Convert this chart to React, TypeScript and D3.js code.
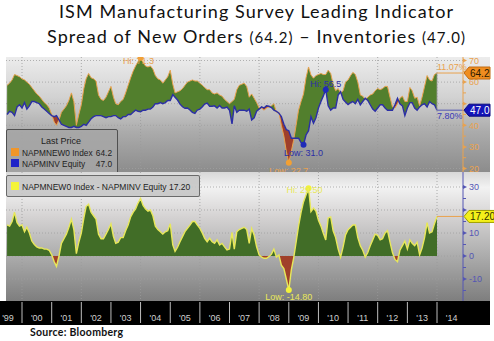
import React from "react";
import * as d3 from "d3";

// Monthly values, first point = June 1999, last point = December 2013
const firstYear = 1999;
const firstMonthIndex = 5; // June (0-based)

const newOrders = [
  // 1999 Jun-Dec
  58.5, 59.5, 61, 63.5, 63, 62.5, 61.5,
  // 2000
  61, 60, 59, 57.5, 56, 54.5, 53.5, 52, 50.5, 49.5, 48, 45,
  // 2001
  41.5, 40, 42.5, 46, 47.5, 49, 51.5, 55, 51, 40, 45, 49.5,
  // 2002
  57, 61.5, 64, 62, 61.5, 60.5, 54, 52, 51.5, 53, 55.5, 58,
  // 2003
  53, 50, 49.5, 51, 52, 55, 58.5, 62, 65, 67.5, 69.5, 71.3,
  // 2004
  69, 67.5, 67, 67.5, 66, 63, 61.5, 61, 59.5, 61, 62.5, 65.5,
  // 2005
  59, 55, 55.5, 56, 57, 58.5, 60, 60.5, 61, 60.5, 60.5, 59.5,
  // 2006
  58.5, 57.5, 56.5, 56.5, 55, 54.5, 55, 54, 53.5, 52, 51, 50,
  // 2007
  51, 52, 56.5, 58.5, 59, 59.5, 58, 53, 54.5, 52.5, 50.5, 48,
  // 2008
  48, 47, 48, 48.5, 49, 50, 46, 46, 40, 35, 28, 22.7,
  // 2009
  28, 33, 40, 47, 51, 54.5, 62, 67, 63.3, 61.8, 63, 63.5,
  // 2010
  64, 63.5, 63.5, 65.5, 64, 59, 56, 57, 55, 56, 60, 61,
  // 2011
  63, 64.5, 63.5, 60, 54, 53.5, 52, 53, 54, 54.5, 56, 57,
  // 2012
  56.5, 57, 58, 58, 53, 48.5, 48, 50, 52.5, 53.5, 51, 51,
  // 2013
  57.5, 56, 52.5, 53, 49, 53, 58, 63, 61, 60.5, 63.5, 64.2,
];

const inventories = [
  // 1999 Jun-Dec
  45, 46.5, 46, 44.5, 48.5, 49.5, 48,
  // 2000
  50.5, 47.5, 49, 51, 51, 50.5, 50, 48.5, 47.5, 46.5, 45.5, 44.5,
  // 2001
  44, 44.5, 42.5, 40.5, 40, 39.5, 39, 39, 39.5, 39, 39, 39.5,
  // 2002
  40.5, 40, 41.5, 43, 44, 44.5, 44.5, 44.5, 44, 43.5, 44, 44,
  // 2003
  44.5, 44.5, 43.5, 43, 44, 44, 45, 45, 46, 47, 46.5, 46.3,
  // 2004
  47, 47, 47.5, 47.5, 48.5, 50, 50, 50.5, 50, 50.5, 51.5, 51.5,
  // 2005
  54.2, 53, 51.7, 49.8, 48.6, 47.9, 48, 47.1, 46, 45.5, 47.1, 47.5,
  // 2006
  48.6, 49.8, 50.3, 48.8, 48.8, 49, 48, 49.2, 48, 48, 48.4, 47,
  // 2007
  40.7, 49, 46, 47, 47, 47, 46.5, 47.5, 42.5, 43.5, 46.5, 47.5,
  // 2008
  48.5, 48, 49, 48.8, 48.2, 47, 46.5, 45.6, 44, 40.5, 38, 37.5,
  // 2009
  34, 34, 34, 34, 32, 31, 35.5, 37.5, 44, 41, 43.5, 48,
  // 2010
  51, 53.5, 56.5, 49, 47, 48, 48, 54, 55.5, 52, 50.8, 49.6,
  // 2011
  50.5, 51, 50, 52, 49.5, 51, 52.5, 51.5, 49.5, 47.5, 46.5, 48,
  // 2012
  49.5, 49.5, 48, 47, 47, 47, 49.5, 52.5, 50, 49, 44.5, 48,
  // 2013
  50.5, 50.5, 48, 47, 48.5, 49.5, 50, 48.5, 51, 50, 49.5, 47.0,
];

const yearLabels = ["'99", "'00", "'01", "'02", "'03", "'04", "'05", "'06", "'07", "'08", "'09", "'10", "'11", "'12", "'13", "'14"];
const gridYears = [2000, 2002, 2004, 2006, 2008, 2010, 2012, 2014];
const topTicks = [70, 60, 50, 40, 30, 20];
const topMinorTicks = [65, 55, 45, 35, 25];
const bottomTicks = [30, 20, 10, 0, -10];
const bottomMinorTicks = [25, 15, 5, -5, -15];
const pctLabels = ["11.07%", "7.80%"];
const seriesNames = ["NAPMNEW0 Index", "NAPMINV Equity"];
const spreadName = "NAPMNEW0 Index - NAPMINV Equity";

const BB = "Liberation Sans";

export default function App() {
  const W = 494, H = 341;
  const left = 6, right = 490, axisX = 463;
  const topY0 = 57, topY1 = 172, botY0 = 172, botY1 = 301, bandY1 = 325;

  const data = newOrders.map((no, i) => ({
    date: new Date(firstYear, firstMonthIndex + i + 1, 1),
    no,
    inv: inventories[i],
    spread: Math.round((no - inventories[i]) * 100) / 100,
  }));
  const last = data[data.length - 1];

  const x = d3.scaleTime().domain([new Date(2000, 0, 1), new Date(2014, 0, 1)]).range([22, 437]);
  const yT = d3.scaleLinear().domain([20, 70]).range([168.5, 60.5]);
  const yB = d3.scaleLinear().domain([-10, 30]).range([279, 187]);

  type D = typeof data[number];
  const between = d3.area<D>().x(d => x(d.date)).y0(d => yT(d.inv)).y1(d => yT(d.no))(data) || "";
  const aboveInv = d3.area<D>().x(d => x(d.date)).y0(topY0).y1(d => yT(d.inv))(data) || "";
  const belowInv = d3.area<D>().x(d => x(d.date)).y0(topY1).y1(d => yT(d.inv))(data) || "";
  const noLine = d3.line<D>().x(d => x(d.date)).y(d => yT(d.no))(data) || "";
  const invLine = d3.line<D>().x(d => x(d.date)).y(d => yT(d.inv))(data) || "";
  const spreadArea = d3.area<D>().x(d => x(d.date)).y0(yB(0)).y1(d => yB(d.spread))(data) || "";
  const spreadLine = d3.line<D>().x(d => x(d.date)).y(d => yB(d.spread))(data) || "";

  const iMaxNo = d3.maxIndex(data, d => d.no);
  const iMinNo = d3.minIndex(data, d => d.no);
  const iMaxInv = d3.maxIndex(data, d => d.inv);
  const iMinInv = d3.minIndex(data, d => d.inv);
  const iMaxSp = d3.maxIndex(data, d => d.spread);
  const iMinSp = d3.minIndex(data, d => d.spread);

  const orange = "#e9a24e";
  const orangeDot = "#f3a033";
  const blue = "#2b2fa6";
  const axisBlue = "#5456b4";
  const yellow = "#e8e85a";
  const xEnd = x(last.date);

  // tick labels hidden behind the last-value tags (as in the Bloomberg chart)
  const topTagYs = [yT(last.no), yT(last.inv)];
  const botTagYs = [yB(last.spread)];
  const free = (ty: number, tags: number[]) => tags.every(g => Math.abs(g - ty) > 9);

  const tag = (cy: number, fill: string, stroke: string, text: string, tc: string, w: number) => (
    <g>
      <path d={`M${axisX + 1},${cy} L${axisX + 6},${cy - 6} L${axisX + w},${cy - 6} L${axisX + w},${cy + 6} L${axisX + 6},${cy + 6} Z`} fill={fill} stroke={stroke} strokeWidth={1} />
      <text x={axisX + 7} y={cy + 3.8} fontFamily={BB} fontSize={10} fill={tc}>{text}</text>
    </g>
  );

  return (
    <svg width={W} height={H} viewBox={`0 0 ${W} ${H}`} style={{ position: "absolute", left: 0, top: 0, background: "#fff" }}>
      <defs>
        <linearGradient id="gTop" x1="0" y1="0" x2="0" y2="1">
          <stop offset="0%" stopColor="#ececec" />
          <stop offset="35%" stopColor="#d2d2d2" />
          <stop offset="65%" stopColor="#ababab" />
          <stop offset="100%" stopColor="#8c8c8c" />
        </linearGradient>
        <linearGradient id="gBot" x1="0" y1="0" x2="0" y2="1">
          <stop offset="0%" stopColor="#d8d8d8" />
          <stop offset="12%" stopColor="#f2f2f2" />
          <stop offset="35%" stopColor="#d4d2d2" />
          <stop offset="62%" stopColor="#b0b0b0" />
          <stop offset="100%" stopColor="#7e7e7e" />
        </linearGradient>
        <clipPath id="cTop"><rect x={left} y={topY0} width={axisX - left} height={topY1 - topY0} /></clipPath>
        <clipPath id="cBot"><rect x={left} y={botY0} width={axisX - left} height={botY1 - botY0} /></clipPath>
        <clipPath id="cAbove"><path d={aboveInv} /></clipPath>
        <clipPath id="cBelow"><path d={belowInv} /></clipPath>
        <clipPath id="cPos"><rect x={left} y={botY0} width={axisX - left} height={yB(0) - botY0} /></clipPath>
        <clipPath id="cNeg"><rect x={left} y={yB(0)} width={axisX - left} height={botY1 - yB(0)} /></clipPath>
        <clipPath id="cTopPanel"><rect x={left} y={topY0} width={right - left} height={topY1 - topY0} /></clipPath>
      </defs>

      {/* Title */}
      <text x={256} y={18} textAnchor="middle" fontFamily="Lato" fontSize={18} fill="#111" textLength={394} lengthAdjust="spacing">
        ISM Manufacturing Survey Leading Indicator
      </text>
      <text x={256} y={43} textAnchor="middle" fontFamily="Lato" fill="#111" textLength={418} lengthAdjust="spacing">
        <tspan fontSize={18}>Spread of New Orders </tspan>
        <tspan fontSize={15}>({last.no.toFixed(1)})</tspan>
        <tspan fontSize={18}> – Inventories </tspan>
        <tspan fontSize={15}>({last.inv.toFixed(1)})</tspan>
      </text>

      {/* Panel backgrounds */}
      <rect x={left} y={topY0} width={right - left} height={topY1 - topY0} fill="url(#gTop)" />
      <rect x={left} y={botY0} width={right - left} height={botY1 - botY0} fill="url(#gBot)" />

      {/* ===== Top panel ===== */}
      <g clipPath="url(#cTop)">
        {gridYears.map(yr => (
          <line key={yr} x1={x(new Date(yr, 0, 1))} x2={x(new Date(yr, 0, 1))} y1={topY0} y2={topY1} stroke="#9a9a9a" strokeDasharray="1,2" strokeWidth={0.8} />
        ))}
        {topTicks.map(t => (
          <line key={t} x1={left} x2={axisX} y1={yT(t)} y2={yT(t)} stroke="#a0a0a0" strokeDasharray="1,2" strokeWidth={0.8} />
        ))}
        <path d={between} fill="#527f2d" clipPath="url(#cAbove)" />
        <path d={between} fill="#9e3f2b" clipPath="url(#cBelow)" />
        <path d={noLine} fill="none" stroke={orange} strokeWidth={1} />
        <path d={invLine} fill="none" stroke={blue} strokeWidth={1.4} />
        <line x1={xEnd} x2={axisX} y1={yT(last.no)} y2={yT(last.no)} stroke={orange} strokeWidth={1} />
        <line x1={xEnd} x2={axisX} y1={yT(last.inv)} y2={yT(last.inv)} stroke={axisBlue} strokeWidth={1} />
        <line x1={xEnd} x2={xEnd} y1={yT(last.no)} y2={yT(last.inv)} stroke="#9a9a9a" strokeWidth={0.8} />
      </g>
      <g clipPath="url(#cTopPanel)" fontFamily={BB} fontSize={9}>
        <circle cx={x(data[iMaxNo].date)} cy={yT(data[iMaxNo].no)} r={3} fill={orangeDot} />
        <text x={x(data[iMaxNo].date) - 2} y={yT(data[iMaxNo].no) + 6} textAnchor="middle" fill={orange}>Hi: {data[iMaxNo].no.toFixed(1)}</text>
        <circle cx={x(data[iMinNo].date)} cy={yT(data[iMinNo].no)} r={3} fill={orangeDot} />
        <text x={x(data[iMinNo].date)} y={yT(data[iMinNo].no) + 11} textAnchor="middle" fill={orange}>Low: {data[iMinNo].no.toFixed(1)}</text>
        <circle cx={x(data[iMaxInv].date)} cy={yT(data[iMaxInv].inv)} r={3} fill="#1f2bb8" />
        <text x={x(data[iMaxInv].date)} y={yT(data[iMaxInv].inv) - 3} textAnchor="middle" fill={blue}>Hi: {data[iMaxInv].inv.toFixed(1)}</text>
        <circle cx={x(data[iMinInv].date)} cy={yT(data[iMinInv].inv)} r={3} fill="#1f2bb8" />
        <text x={x(data[iMinInv].date)} y={yT(data[iMinInv].inv) + 11} textAnchor="middle" fill={blue}>Low: {data[iMinInv].inv.toFixed(1)}</text>
        <text x={xEnd} y={yT(last.no) - 3} fill={orange}>{pctLabels[0]}</text>
        <text x={xEnd} y={yT(last.inv) + 9} fill="#3a3ab8">{pctLabels[1]}</text>
      </g>

      {/* Top legend */}
      <g clipPath="url(#cTopPanel)" fontFamily={BB}>
        <rect x={left + 0.5} y={129.5} width={111} height={45} fill="#a6a6a6" fillOpacity={0.85} stroke="#505050" strokeWidth={1} rx={1.5} />
        <text x={61} y={144} textAnchor="middle" fontSize={9} fill="#1e1e1e">Last Price</text>
        <rect x={11} y={148} width={8} height={8} fill="#f0962a" />
        <text x={22} y={155.5} fontSize={8.3} fill="#1e1e1e">{seriesNames[0]}</text>
        <text x={112} y={155.5} textAnchor="end" fontSize={8.3} fill="#1e1e1e">{last.no.toFixed(1)}</text>
        <rect x={11} y={159} width={8} height={8} fill="#1f24c8" />
        <text x={22} y={166.5} fontSize={8.3} fill="#1e1e1e">{seriesNames[1]}</text>
        <text x={112} y={166.5} textAnchor="end" fontSize={8.3} fill="#1e1e1e">{last.inv.toFixed(1)}</text>
      </g>

      {/* Top axis */}
      <line x1={axisX} x2={axisX} y1={topY0} y2={topY1} stroke={orange} strokeWidth={1} />
      {topMinorTicks.map(t => (
        <line key={t} x1={axisX} x2={axisX + 3} y1={yT(t)} y2={yT(t)} stroke={orange} strokeWidth={1} />
      ))}
      {topTicks.map(t => (
        <g key={t}>
          <path d={`M${axisX},${yT(t) - 2} L${axisX + 4},${yT(t)} L${axisX},${yT(t) + 2} Z`} fill={orange} />
          {free(yT(t), topTagYs) && (
            <text x={axisX + 6} y={yT(t) + 3.2} fontFamily={BB} fontSize={9} fill={orange}>{t}</text>
          )}
        </g>
      ))}
      {tag(yT(last.no), "#f08d1f", "#c06a10", last.no.toFixed(1), "#2a1a00", 27)}
      {tag(yT(last.inv), "#1414b8", "#0a0a80", last.inv.toFixed(1), "#ffffff", 27)}

      {/* ===== Bottom panel ===== */}
      <g clipPath="url(#cBot)">
        {gridYears.map(yr => (
          <line key={yr} x1={x(new Date(yr, 0, 1))} x2={x(new Date(yr, 0, 1))} y1={botY0} y2={botY1} stroke="#9a9a9a" strokeDasharray="1,2" strokeWidth={0.8} />
        ))}
        {bottomTicks.map(t => (
          <line key={t} x1={left} x2={axisX} y1={yB(t)} y2={yB(t)} stroke="#a0a0a0" strokeDasharray="1,2" strokeWidth={0.8} />
        ))}
        <path d={spreadArea} fill="#416d27" clipPath="url(#cPos)" />
        <path d={spreadArea} fill="#a0402a" clipPath="url(#cNeg)" />
        <path d={spreadLine} fill="none" stroke={yellow} strokeWidth={1.4} />
        <line x1={xEnd} x2={axisX} y1={yB(last.spread)} y2={yB(last.spread)} stroke={orange} strokeWidth={1} />
      </g>
      <g fontFamily={BB} fontSize={9}>
        <circle cx={x(data[iMaxSp].date)} cy={yB(data[iMaxSp].spread)} r={3} fill="#f2f23a" />
        <text x={x(data[iMaxSp].date) - 4} y={yB(data[iMaxSp].spread) + 5} textAnchor="middle" fill={yellow}>Hi: {data[iMaxSp].spread.toFixed(2)}</text>
        <circle cx={x(data[iMinSp].date)} cy={yB(data[iMinSp].spread)} r={3} fill="#f2f23a" />
        <text x={x(data[iMinSp].date)} y={yB(data[iMinSp].spread) + 10} textAnchor="middle" fill={yellow}>Low: {data[iMinSp].spread.toFixed(2)}</text>
      </g>

      {/* Bottom legend */}
      <rect x={left + 0.5} y={175.5} width={193} height={21} fill="#c6c6c6" fillOpacity={0.9} stroke="#6a6a6a" strokeWidth={1} rx={1.5} />
      <rect x={11} y={182} width={8} height={8} fill="#f4f43a" />
      <text x={22} y={189.5} fontFamily={BB} fontSize={8.5} fill="#1e1e1e">{spreadName} {last.spread.toFixed(2)}</text>

      {/* Bottom axis */}
      <line x1={axisX} x2={axisX} y1={botY0} y2={botY1 + 3} stroke={axisBlue} strokeWidth={1} />
      {bottomMinorTicks.map(t => (
        <line key={t} x1={axisX} x2={axisX + 3} y1={yB(t)} y2={yB(t)} stroke={axisBlue} strokeWidth={1} />
      ))}
      {bottomTicks.map(t => (
        <g key={t}>
          <path d={`M${axisX},${yB(t) - 2} L${axisX + 4},${yB(t)} L${axisX},${yB(t) + 2} Z`} fill={axisBlue} />
          {free(yB(t), botTagYs) && (
            <text x={axisX + 6} y={yB(t) + 3.2} fontFamily={BB} fontSize={9} fill={axisBlue}>{t}</text>
          )}
        </g>
      ))}
      {tag(yB(last.spread), "#f4f01a", "#a0a000", last.spread.toFixed(2), "#333300", 36)}

      {/* ===== Time band ===== */}
      <rect x={0} y={botY1} width={right} height={bandY1 - botY1} fill="#000" />
      {d3.range(2000, 2015).map(yr => (
        <line key={yr} x1={x(new Date(yr, 0, 1))} x2={x(new Date(yr, 0, 1))} y1={botY1 + 1} y2={bandY1 - 2} stroke="#bdbdbd" strokeWidth={1} />
      ))}
      {yearLabels.map((lab, i) => (
        <text key={lab} x={Math.max(x(new Date(firstYear + i, 6, 1)), 8)} y={321} textAnchor="middle" fontFamily={BB} fontSize={9} fill="#cfcfcf">{lab}</text>
      ))}

      {/* Source */}
      <text x={30} y={336} fontFamily="Lato" fontWeight="bold" fontSize={10.5} fill="#111" textLength={93} lengthAdjust="spacing">Source:  Bloomberg</text>
    </svg>
  );
}
